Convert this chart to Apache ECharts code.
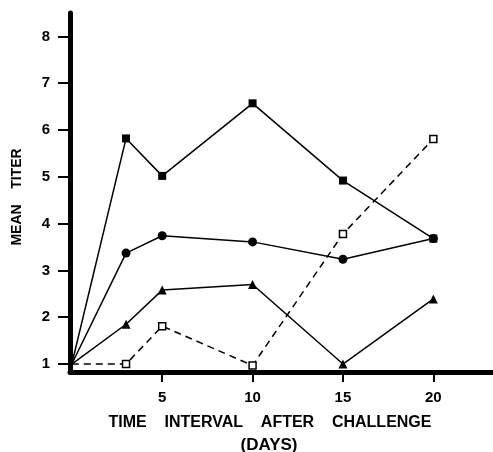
<!DOCTYPE html>
<html>
<head>
<meta charset="utf-8">
<script src="https://cdn.jsdelivr.net/npm/echarts@6/dist/echarts.min.js"></script>
<style>
html,body{margin:0;padding:0;background:#fff;}
#c{width:493px;height:452px;}
</style>
</head>
<body>
<div id="c"></div>
<script>
var days = [0, 3, 5, 10, 15, 20];
var filledSquares = [1, 5.82, 5.02, 6.57, 4.92, 3.68];
var filledCircles = [1, 3.37, 3.74, 3.61, 3.24, 3.68];
var filledTriangles = [1, 1.85, 2.58, 2.70, 1.0, 2.39];
var openSquares = [1, 1.0, 1.81, 0.97, 3.78, 5.81];
var xTicks = [5, 10, 15, 20];
var yTicks = [1, 2, 3, 4, 5, 6, 7, 8];
var xTitle = 'TIME    INTERVAL    AFTER    CHALLENGE';
var xSubTitle = '(DAYS)';
var yTitle = 'MEAN    TITER';

var FONT = '"Liberation Sans", Arial, sans-serif';

function pts(vals) {
  return days.map(function (d, i) {
    var item = { value: [d, vals[i]] };
    if (i === 0) item.symbolSize = 0;
    return item;
  });
}

var chart = echarts.init(document.getElementById('c'), null, { renderer: 'canvas' });
chart.setOption({
  backgroundColor: '#ffffff',
  animation: false,
  grid: { left: 70, right: 0, top: 13, bottom: 80, containLabel: false },
  xAxis: {
    type: 'value',
    min: -0.1,
    max: 23.3,
    axisLine: { show: true, onZero: false, lineStyle: { color: '#000', width: 5 } },
    axisTick: { show: true, customValues: xTicks, length: 10, lineStyle: { color: '#000', width: 2 } },
    axisLabel: { customValues: xTicks, margin: 18, color: '#000', fontSize: 15, fontWeight: 'bold', fontFamily: FONT },
    splitLine: { show: false }
  },
  yAxis: {
    type: 'value',
    min: 0.83,
    max: 8.5,
    axisLine: { show: true, onZero: false, lineStyle: { color: '#000', width: 5 } },
    axisTick: { show: true, customValues: yTicks, length: 12, lineStyle: { color: '#000', width: 2 } },
    axisLabel: { customValues: yTicks, margin: 20, color: '#000', fontSize: 15, fontWeight: 'bold', fontFamily: FONT },
    splitLine: { show: false }
  },
  graphic: [
    { type: 'text', x: 270, y: 423, style: { text: xTitle, fill: '#000', font: 'bold 16px ' + FONT, align: 'center', verticalAlign: 'middle' } },
    { type: 'text', x: 269, y: 445, style: { text: xSubTitle, fill: '#000', font: 'bold 17px ' + FONT, align: 'center', verticalAlign: 'middle' } },
    { type: 'text', x: 17, y: 197, rotation: Math.PI / 2, style: { text: yTitle, fill: '#000', font: 'bold 14px ' + FONT, align: 'center', verticalAlign: 'middle' } }
  ],
  series: [
    {
      type: 'line', data: pts(filledSquares), symbol: 'rect', symbolSize: 8,
      lineStyle: { color: '#000', width: 1.5 }, itemStyle: { color: '#000' }, z: 3
    },
    {
      type: 'line', data: pts(filledCircles), symbol: 'circle', symbolSize: 9,
      lineStyle: { color: '#000', width: 1.5 }, itemStyle: { color: '#000' }, z: 3
    },
    {
      type: 'line', data: pts(filledTriangles), symbol: 'triangle', symbolSize: 9,
      lineStyle: { color: '#000', width: 1.5 }, itemStyle: { color: '#000' }, z: 3
    },
    {
      type: 'line', data: pts(openSquares), symbol: 'rect', symbolSize: 7,
      lineStyle: { color: '#000', width: 1.5, type: [7, 5] },
      itemStyle: { color: '#fff', borderColor: '#000', borderWidth: 1.5 }, z: 4
    }
  ]
});
</script>
</body>
</html>
